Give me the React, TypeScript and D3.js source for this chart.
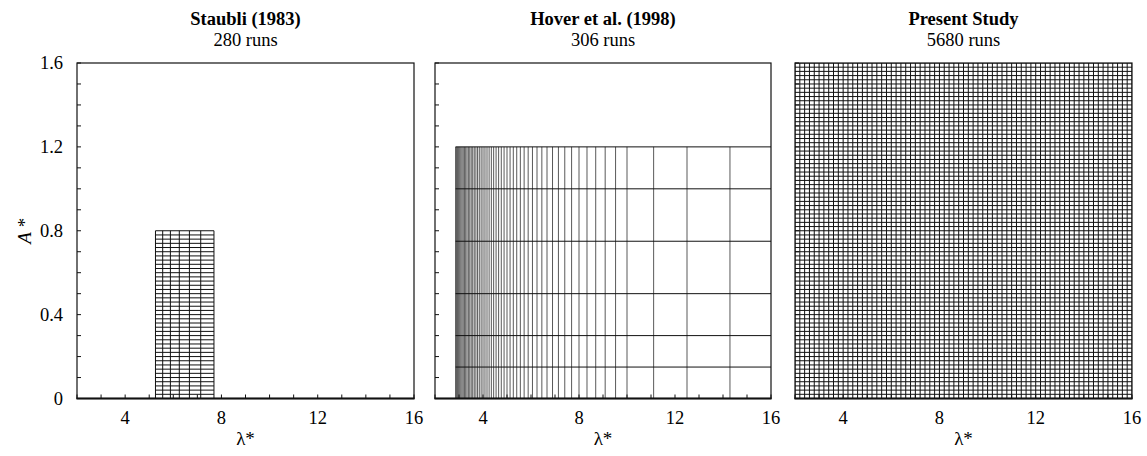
import React from "react";
import * as d3 from "d3";

// Test matrices (wavelength λ* and amplitude A*) for each study
const studyTitles = ["Staubli (1983)", "Hover et al. (1998)", "Present Study"];
const studyRuns = ["280 runs", "306 runs", "5680 runs"];

const staubliLambda = [5.26, 5.56, 5.88, 6.25, 6.67, 7.14, 7.69];
const staubliA = [
  0.02, 0.04, 0.06, 0.08, 0.1, 0.12, 0.14, 0.16, 0.18, 0.2,
  0.22, 0.24, 0.26, 0.28, 0.3, 0.32, 0.34, 0.36, 0.38, 0.4,
  0.42, 0.44, 0.46, 0.48, 0.5, 0.52, 0.54, 0.56, 0.58, 0.6,
  0.62, 0.64, 0.66, 0.68, 0.7, 0.72, 0.74, 0.76, 0.78, 0.8,
];

const hoverLambda = [
  2.857, 2.899, 2.941, 2.985, 3.03, 3.077, 3.125, 3.175, 3.226, 3.279,
  3.333, 3.39, 3.448, 3.509, 3.571, 3.636, 3.704, 3.774, 3.846, 3.922,
  4.0, 4.082, 4.167, 4.255, 4.348, 4.444, 4.545, 4.651, 4.762, 4.878,
  5.0, 5.128, 5.263, 5.405, 5.556, 5.714, 5.882, 6.061, 6.25, 6.452,
  6.667, 6.897, 7.143, 7.407, 7.692, 8.0, 8.333, 8.696, 9.091, 9.524,
  10.0, 11.11, 12.5, 14.29, 16.67,
];
const hoverA = [0.15, 0.3, 0.5, 0.75, 1.0, 1.2];

const presentLambda = [
  2, 2.2, 2.4, 2.6, 2.8, 3, 3.2, 3.4, 3.6, 3.8,
  4, 4.2, 4.4, 4.6, 4.8, 5, 5.2, 5.4, 5.6, 5.8,
  6, 6.2, 6.4, 6.6, 6.8, 7, 7.2, 7.4, 7.6, 7.8,
  8, 8.2, 8.4, 8.6, 8.8, 9, 9.2, 9.4, 9.6, 9.8,
  10, 10.2, 10.4, 10.6, 10.8, 11, 11.2, 11.4, 11.6, 11.8,
  12, 12.2, 12.4, 12.6, 12.8, 13, 13.2, 13.4, 13.6, 13.8,
  14, 14.2, 14.4, 14.6, 14.8, 15, 15.2, 15.4, 15.6, 15.8,
  16,
];
const presentA = [
  0.02, 0.04, 0.06, 0.08, 0.1, 0.12, 0.14, 0.16, 0.18, 0.2,
  0.22, 0.24, 0.26, 0.28, 0.3, 0.32, 0.34, 0.36, 0.38, 0.4,
  0.42, 0.44, 0.46, 0.48, 0.5, 0.52, 0.54, 0.56, 0.58, 0.6,
  0.62, 0.64, 0.66, 0.68, 0.7, 0.72, 0.74, 0.76, 0.78, 0.8,
  0.82, 0.84, 0.86, 0.88, 0.9, 0.92, 0.94, 0.96, 0.98, 1.0,
  1.02, 1.04, 1.06, 1.08, 1.1, 1.12, 1.14, 1.16, 1.18, 1.2,
  1.22, 1.24, 1.26, 1.28, 1.3, 1.32, 1.34, 1.36, 1.38, 1.4,
  1.42, 1.44, 1.46, 1.48, 1.5, 1.52, 1.54, 1.56, 1.58, 1.6,
];

const xTickLabels = [4, 8, 12, 16];
const yTickLabels = [0, 0.4, 0.8, 1.2, 1.6];

const lambdaDomain: [number, number] = [2, 16];
const aDomain: [number, number] = [0, 1.6];

const W = 1147;
const H = 456;
const TOP = 63;
const BOTTOM = 398.5;
const panelX: [number, number][] = [
  [77, 414],
  [435, 771],
  [795, 1132],
];

const FONT = "'Liberation Serif', 'DejaVu Serif', serif";

type Study = { lambda: number[]; a: number[]; vWidth: number };
const studies: Study[] = [
  { lambda: staubliLambda, a: staubliA, vWidth: 1 },
  { lambda: hoverLambda, a: hoverA, vWidth: 0.7 },
  { lambda: presentLambda, a: presentA, vWidth: 1 },
];

function Panel({ idx }: { idx: number }) {
  const [x0, x1] = panelX[idx];
  const x = d3.scaleLinear().domain(lambdaDomain).range([x0, x1]);
  const y = d3.scaleLinear().domain(aDomain).range([BOTTOM, TOP]);
  const s = studies[idx];
  const lMin = d3.min(s.lambda) as number;
  const lMax = d3.max(s.lambda) as number;
  const aMax = d3.max(s.a) as number;
  const clipId = `clip-${idx}`;
  const xMinor = x.ticks(14);
  const yMinor = y.ticks(16);
  const cx = (x0 + x1) / 2;
  return (
    <g>
      <defs>
        <clipPath id={clipId}>
          <rect x={x0} y={TOP} width={x1 - x0} height={BOTTOM - TOP} />
        </clipPath>
      </defs>
      {/* titles */}
      <text x={cx} y={25} textAnchor="middle" fontFamily={FONT} fontWeight="bold" fontSize={18.5} fill="#000">
        {studyTitles[idx]}
      </text>
      <text x={cx} y={45.5} textAnchor="middle" fontFamily={FONT} fontSize={18.5} fill="#000">
        {studyRuns[idx]}
      </text>
      {/* minor ticks, inward */}
      {xMinor.map((t) => (
        <line key={`xt${t}`} x1={x(t)} x2={x(t)} y1={BOTTOM} y2={BOTTOM - 4} stroke="#111" strokeWidth={1} />
      ))}
      {yMinor.map((t) => (
        <line key={`yt${t}`} x1={x0} x2={x0 + 4} y1={y(t)} y2={y(t)} stroke="#111" strokeWidth={1} />
      ))}
      {/* test matrix grid */}
      <g clipPath={`url(#${clipId})`} stroke="#111">
        {s.lambda.map((l) => (
          <line key={`v${l}`} x1={x(l)} x2={x(l)} y1={y(0)} y2={y(aMax)} strokeWidth={s.vWidth} />
        ))}
        {s.a.map((a) => (
          <line key={`h${a}`} x1={x(lMin)} x2={x(lMax)} y1={y(a)} y2={y(a)} strokeWidth={1} />
        ))}
      </g>
      {/* frame */}
      <rect x={x0} y={TOP} width={x1 - x0} height={BOTTOM - TOP} fill="none" stroke="#111" strokeWidth={1.2} />
      <line x1={x0 - 0.5} x2={x1 + 0.5} y1={BOTTOM} y2={BOTTOM} stroke="#111" strokeWidth={2.2} />
      {/* x tick labels */}
      {xTickLabels.map((t) => (
        <text key={`xl${t}`} x={x(t)} y={424} textAnchor="middle" fontFamily={FONT} fontSize={18.5} fill="#000">
          {t}
        </text>
      ))}
      <text x={cx} y={445} textAnchor="middle" fontFamily={FONT} fontSize={19} fill="#000">
        λ*
      </text>
      {idx === 0 &&
        yTickLabels.map((t) => (
          <text key={`yl${t}`} x={63} y={y(t)} dy="0.35em" textAnchor="end" fontFamily={FONT} fontSize={18.5} fill="#000">
            {t === 0 ? "0" : d3.format(".1f")(t)}
          </text>
        ))}
    </g>
  );
}

export default function App() {
  return (
    <svg
      width={W}
      height={H}
      viewBox={`0 0 ${W} ${H}`}
      style={{ position: "absolute", left: 0, top: 0, background: "#fff" }}
    >
      <rect width={W} height={H} fill="#fff" />
      <text
        transform={`translate(31, ${(TOP + BOTTOM) / 2}) rotate(-90)`}
        textAnchor="middle"
        fontFamily={FONT}
        fontSize={19}
        fill="#000"
      >
        <tspan fontStyle="italic">A</tspan>
        <tspan> *</tspan>
      </text>
      {[0, 1, 2].map((i) => (
        <Panel key={i} idx={i} />
      ))}
    </svg>
  );
}
